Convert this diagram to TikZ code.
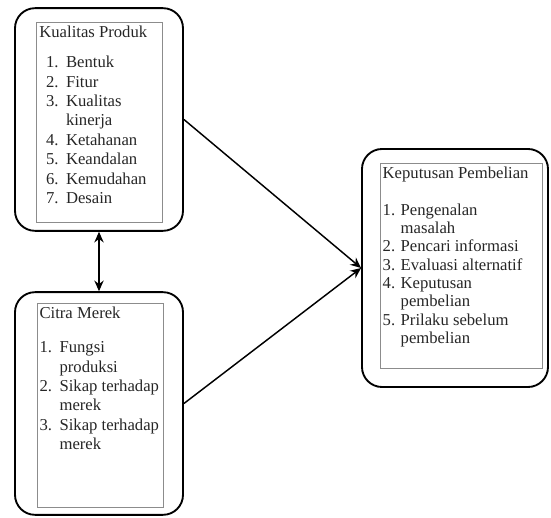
\documentclass[tikz,border=0pt]{standalone}
\usepackage{fontspec}
\setmainfont{Liberation Serif}
\usetikzlibrary{arrows.meta}

\begin{document}
\begin{tikzpicture}[
    x=0.75pt, y=-0.75pt,
    % Styles
    outerbox/.style={draw=black, line width=1.4pt, rounded corners=15pt, minimum width=126pt, minimum height=167pt},
    innerbox/.style={draw=black!45, line width=0.6pt, minimum width=94pt, minimum height=151pt},
    boxtext/.style={anchor=north west, align=left, inner sep=2pt, text=black!85, font=\fontsize{12.5}{14.6}\selectfont},
    link/.style={-{Stealth[length=8pt,width=7pt]}, line width=1.1pt},
    both/.style={{Stealth[length=8pt,width=7pt]}-{Stealth[length=8pt,width=7pt]}, line width=1.1pt},
]
\useasboundingbox (0,0) rectangle (551,518);

% Kualitas Produk
\node[outerbox] (produk) at (99, 119.5) {};
\node[innerbox, minimum height=150pt] (produk-in) at (99.5, 122) {};
\node[boxtext] (produk-txt) at ([yshift=-1pt]produk-in.north west) {Kualitas Produk\\[8pt]
\hspace*{5pt}\begin{tabular}[t]{@{}p{15pt}@{}l@{}}
1. & Bentuk\\
2. & Fitur\\
3. & Kualitas\\
   & kinerja\\
4. & Ketahanan\\
5. & Keandalan\\
6. & Kemudahan\\
7. & Desain
\end{tabular}};

% Citra Merek
\node[outerbox] (citra) at (99, 403.5) {};
\node[innerbox, minimum width=94.5pt, minimum height=153pt] (citra-in) at (100, 405) {};
\node[boxtext] (citra-txt) at ([yshift=-1pt]citra-in.north west) {Citra Merek\\[11pt]
\begin{tabular}[t]{@{}p{15pt}@{}l@{}}
1. & Fungsi\\
   & produksi\\
2. & Sikap terhadap\\
   & merek\\
3. & Sikap terhadap\\
   & merek
\end{tabular}};

% Keputusan Pembelian
\node[outerbox, minimum width=139.5pt, minimum height=178.5pt] (keputusan) at (455, 268) {};
\node[innerbox, minimum width=122pt, minimum height=153.75pt] (keputusan-in) at (461.5, 265.5) {};
\node[boxtext] (keputusan-txt) at ([yshift=-1pt]keputusan-in.north west) {Keputusan Pembelian\\[13pt]
\renewcommand{\arraystretch}{0.94}%
\begin{tabular}[t]{@{}p{13.5pt}@{}l@{}}
1. & Pengenalan\\
   & masalah\\
2. & Pencari informasi\\
3. & Evaluasi alternatif\\
4. & Keputusan\\
   & pembelian\\
5. & Prilaku sebelum\\
   & pembelian
\end{tabular}};

% Connectors
\draw[both] (produk) -- (citra);
\draw[link] (produk.east) -- (keputusan.west);
\draw[link] (citra.east) -- (keputusan.west);

\end{tikzpicture}
\end{document}
